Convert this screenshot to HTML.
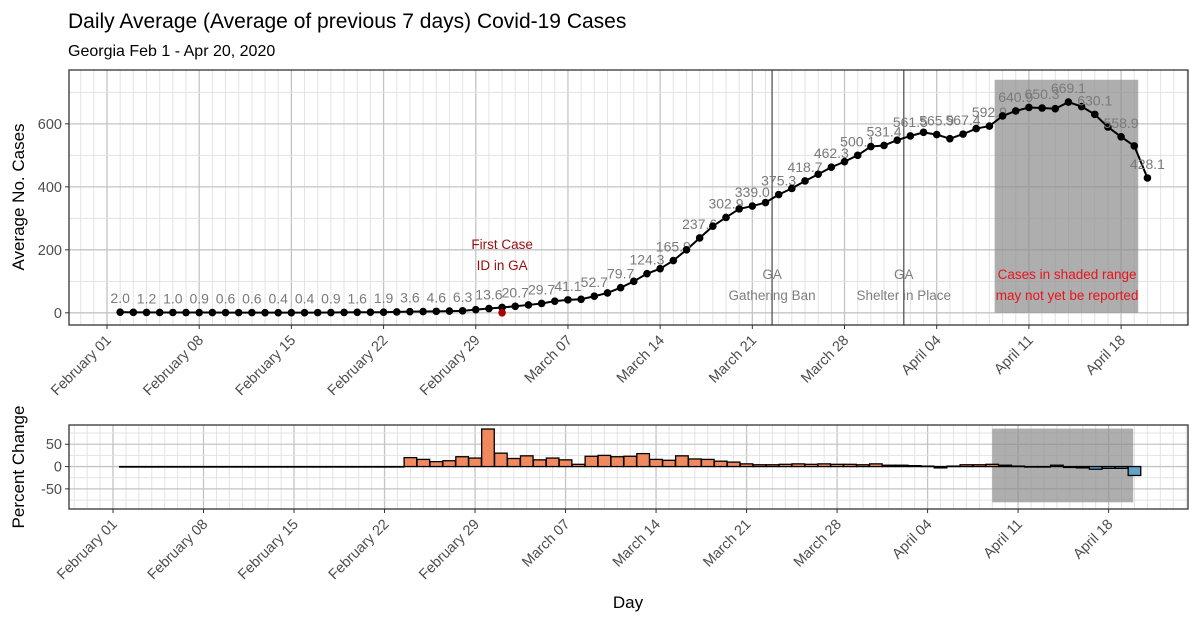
<!DOCTYPE html>
<html><head><meta charset="utf-8">
<style>
body{margin:0;background:#fff;}
svg{display:block;font-family:"Liberation Sans",sans-serif;}
</style></head>
<body>
<svg id="chart" width="1200" height="622" xmlns="http://www.w3.org/2000/svg">
<text x="68" y="28" font-size="21" fill="#000">Daily Average (Average of previous 7 days) Covid-19 Cases</text>
<text x="68" y="56" font-size="16" fill="#000">Georgia Feb 1 - Apr 20, 2020</text>
<text transform="translate(24,197) rotate(-90)" text-anchor="middle" font-size="17">Average No. Cases</text>
<text transform="translate(24,467) rotate(-90)" text-anchor="middle" font-size="17">Percent Change</text>
<text x="628" y="608" text-anchor="middle" font-size="17">Day</text>
<g id="top"></g>
<g id="bot"></g>
</svg>
<script>
// data (index 0 = Feb 2, 2020, daily to Apr 20)
const avgCases = [2.0,1.5,1.2,1.1,1.0,0.9,0.9,0.8,0.6,0.6,0.6,0.5,0.4,0.4,0.4,0.6,0.9,1.2,1.6,1.8,1.9,2.8,3.6,4.1,4.6,5.5,6.3,10,13.6,17,20.7,25,29.7,37,41.1,43,52.7,63,79.7,100,124.3,140,165.9,200,237.6,275,302.9,330,339.0,350,375.3,395,418.7,440,462.3,480,500.1,528,531.4,548,561.5,573,565.9,553,567.4,585,592.9,625,640.9,652,650.3,648,669.1,655,630.1,590,558.9,530,428.1];
const pctChange = [0,0,0,0,0,0,0,0,0,0,0,0,0,0,0,0,0,0,0,0,0,0,20,16,11,13,22,19,84,30,18,24,15,19,15,5,23,25,22,23,29,16,14,24,17,16,12,10,6,4,4,5,6,5,6,5,5,4,6,3,3,2,1,-3,1,4,4,5,3,1,0,-1,3,-2,-3,-6,-4,-4,-20];
const labelEvery = 2;
const yTicksTop = [0,200,400,600];
const yTicksBot = [-50,0,50];
const tickLabels = ["February 01","February 08","February 15","February 22","February 29","March 07","March 14","March 21","March 28","April 04","April 11","April 18"];
const events = [{day:50.5,t1:"GA",t2:"Gathering Ban"},{day:60.5,t1:"GA",t2:"Shelter in Place"}]; // day offsets from Feb 1
const firstCaseDay = 30;
const shadeStartDay = 67.4, shadeEndDay = 78.3;
const shadeStartDayBot = 68, shadeEndDayBot = 78.9;

const NS="http://www.w3.org/2000/svg";
function mk(p,tag,a,txt){const e=document.createElementNS(NS,tag);for(const k in a)e.setAttribute(k,a[k]);if(txt!==undefined)e.textContent=txt;p.appendChild(e);return e;}

function panel(g,o){
  const {L,R,T,B,x0,dx,ymin,ymax,yt,minorY,lblY}=o;
  const ys=v=>B-(v-ymin)/(ymax-ymin)*(B-T);
  const xs=d=>x0+d*dx;
  mk(g,'rect',{x:L,y:T,width:R-L,height:B-T,fill:'#fff'});
  for(let d=-3;d<=90;d++){const x=xs(d);if(x<=L||x>=R)continue;
    const e=mk(g,'line',{x1:x,x2:x,y1:T,y2:B,stroke:d%7===0?'#c4c4c4':'#e3e3e3','stroke-width':d%7===0?1.3:1});
    }
  minorY.forEach(v=>{const e=mk(g,'line',{x1:L,x2:R,y1:ys(v),y2:ys(v),stroke:'#e3e3e3'});});
  yt.forEach(v=>{const y=ys(v);
    const e=mk(g,'line',{x1:L,x2:R,y1:y,y2:y,stroke:'#c4c4c4','stroke-width':1.3});
    
    mk(g,'line',{x1:L-4,x2:L,y1:y,y2:y,stroke:'#333'});
    const t=mk(g,'text',{x:L-7,y:y+5,'text-anchor':'end','font-size':14.5,fill:'#4d4d4d'},String(v));
    });
  tickLabels.forEach((s,i)=>{const x=xs(i*7);
    mk(g,'line',{x1:x,x2:x,y1:B,y2:B+4,stroke:'#333'});
    const t=mk(g,'text',{transform:`translate(${x+5},${B+lblY}) rotate(-45)`,'text-anchor':'end','font-size':14.5,fill:'#4d4d4d'},s);
    });
  return {ys,xs};
}

// TOP PANEL
const gt=document.getElementById('top');
const T={L:69,R:1188,T:70,B:325,x0:107,dx:13.17,ymin:-38.7,ymax:771,yt:yTicksTop,minorY:[100,300,500,700],lblY:16};
const pt=panel(gt,T);
const sh=mk(gt,'rect',{x:pt.xs(shadeStartDay),y:pt.ys(740),width:pt.xs(shadeEndDay)-pt.xs(shadeStartDay),height:pt.ys(0)-pt.ys(740),fill:'#8c8c8c','fill-opacity':0.7});

events.forEach(ev=>{const x=pt.xs(ev.day);
  const l=mk(gt,'line',{x1:x,x2:x,y1:T.T,y2:T.B,stroke:'#555','stroke-width':1.3});
  
  mk(gt,'text',{x:x,y:279,'text-anchor':'middle','font-size':13.5,fill:'#7f7f7f'},ev.t1);
  mk(gt,'text',{x:x,y:300,'text-anchor':'middle','font-size':13.5,fill:'#7f7f7f'},ev.t2);});
const st1=mk(gt,'text',{x:pt.xs(72.9),y:279,'text-anchor':'middle','font-size':13.5,fill:'#e8141c'},'Cases in shaded range');

mk(gt,'text',{x:pt.xs(72.9),y:300,'text-anchor':'middle','font-size':13.5,fill:'#e8141c'},'may not yet be reported');
const fc=mk(gt,'text',{x:pt.xs(firstCaseDay),y:249,'text-anchor':'middle','font-size':13.5,fill:'#9b0d0d'},'First Case');

mk(gt,'text',{x:pt.xs(firstCaseDay),y:270,'text-anchor':'middle','font-size':13.5,fill:'#9b0d0d'},'ID in GA');
let d='';avgCases.forEach((v,i)=>{d+=(i?'L':'M')+pt.xs(i+1)+','+pt.ys(v);});
const ln=mk(gt,'path',{d:d,fill:'none',stroke:'#000','stroke-width':2});

avgCases.forEach((v,i)=>{
  const c=mk(gt,'circle',{cx:pt.xs(i+1),cy:pt.ys(v),r:3.8,fill:'#000'});
  
  if(i%labelEvery===0){const t=mk(gt,'text',{x:pt.xs(i+1),y:pt.ys(v)-9,'text-anchor':'middle','font-size':14,fill:'#7a7a7a'},v.toFixed(1));
    }
});
const rd=mk(gt,'circle',{cx:pt.xs(firstCaseDay),cy:pt.ys(0),r:3.8,fill:'#a00'});

mk(gt,'rect',{x:T.L,y:T.T,width:T.R-T.L,height:T.B-T.T,fill:'none',stroke:'#333','stroke-width':1.3});

// BOTTOM PANEL
const gb=document.getElementById('bot');
const Bp={L:69,R:1188,T:425,B:509,x0:113,dx:12.93,ymin:-95,ymax:93,yt:yTicksBot,minorY:[-75,-25,25,75],lblY:16};
const pb=panel(gb,Bp);
const sb=mk(gb,'rect',{x:pb.xs(shadeStartDayBot),y:pb.ys(85),width:pb.xs(shadeEndDayBot)-pb.xs(shadeStartDayBot),height:pb.ys(-80)-pb.ys(85),fill:'#8c8c8c','fill-opacity':0.7});

pctChange.forEach((v,i)=>{
  const x=pb.xs(i+1)-6.3, y0=pb.ys(0), y1=pb.ys(v);
  const r=mk(gb,'rect',{x:x,y:Math.min(y0,y1),width:12.6,height:Math.max(Math.abs(y1-y0),0.5),fill:v>=0?'#f0895e':'#64a3c8',stroke:'#000','stroke-width':1.3});
  
});
mk(gb,'rect',{x:Bp.L,y:Bp.T,width:Bp.R-Bp.L,height:Bp.B-Bp.T,fill:'none',stroke:'#333','stroke-width':1.3});
</script>
</body></html>
